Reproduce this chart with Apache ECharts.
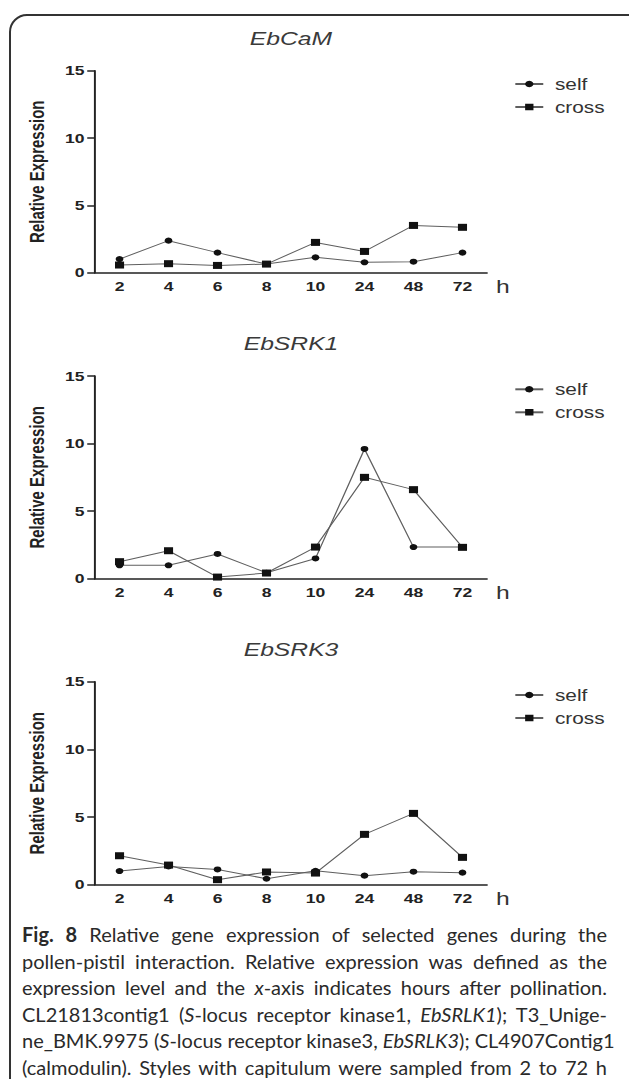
<!DOCTYPE html>
<html>
<head>
<meta charset="utf-8">
<script src="https://cdn.jsdelivr.net/npm/echarts@6/dist/echarts.min.js"></script>
<style>
  html, body { margin: 0; padding: 0; background: #fff; overflow: hidden; }
  #frame {
    position: absolute; left: 9px; top: 14px; width: 660px; height: 1120px;
    border: 2px solid #333; border-radius: 18px; box-sizing: border-box;
  }
  /* the source figure is stretched sideways, so the chart is too */
  #chart {
    position: absolute; left: 0; top: 0; width: 484px; height: 920px;
    transform: scaleX(1.3); transform-origin: 0 0;
  }
  #caption {
    position: absolute; left: 22px; top: 921px; width: 585px;
    font-family: Lato, "Open Sans", sans-serif; font-size: 20px; color: #2a2a2a;
  }
  #caption div { line-height: 26.6px; height: 26.6px; text-align: justify; text-align-last: justify; white-space: nowrap; }
</style>
</head>
<body>
<div id="frame"></div>
<div id="chart"></div>
<div id="caption">
  <div><b>Fig. 8</b> Relative gene expression of selected genes during the</div>
  <div>pollen-pistil interaction. Relative expression was defined as the</div>
  <div>expression level and the <i>x</i>-axis indicates hours after pollination.</div>
  <div>CL21813contig1 (<i>S</i>-locus receptor kinase1, <i>EbSRLK1</i>); T3_Unige-</div>
  <div>ne_BMK.9975 (<i>S</i>-locus receptor kinase3, <i>EbSRLK3</i>); CL4907Contig1</div>
  <div>(calmodulin). Styles with capitulum were sampled from 2 to 72 h</div>
</div>
<script>
// hours after pollination
const hours = ['2', '4', '6', '8', '10', '24', '48', '72'];
const yTicks = [0, 5, 10, 15];

const camSelf = [1.01, 2.38, 1.49, 0.64, 1.14, 0.77, 0.82, 1.49];
const camCross = [0.57, 0.67, 0.54, 0.64, 2.25, 1.58, 3.51, 3.37];

const srk1Self = [0.99, 0.99, 1.83, 0.44, 1.5, 9.6, 2.34, 2.34];
const srk1Cross = [1.26, 2.07, 0.12, 0.42, 2.34, 7.5, 6.59, 2.32];

const srk3Self = [1.01, 1.35, 1.13, 0.44, 1.03, 0.67, 0.96, 0.89];
const srk3Cross = [2.14, 1.45, 0.37, 0.94, 0.86, 3.72, 5.27, 2.02];

const panels = [
  { title: 'EbCaM', top: 70.7, height: 202, self: camSelf, cross: camCross },
  { title: 'EbSRK1', top: 376, height: 202.7, self: srk1Self, cross: srk1Cross },
  { title: 'EbSRK3', top: 681.7, height: 203, self: srk3Self, cross: srk3Cross }
];

const gridLeft = 73.1;
const gridWidth = 301.5;
const axisColor = '#222';

let option = {
  animation: false,
  title: [], legend: [], grid: [], xAxis: [], yAxis: [], series: []
};

panels.forEach((p, i) => {
  option.title.push({
    text: p.title,
    left: gridLeft + gridWidth / 2,
    top: p.top - 42,
    padding: 0,
    textAlign: 'center',
    textStyle: { fontFamily: 'Liberation Sans', fontStyle: 'italic', fontWeight: 'normal', fontSize: 19, color: '#3a3a3a' }
  });
  option.legend.push({
    orient: 'vertical',
    left: 395.4,
    top: p.top + 5.3,
    padding: 0,
    itemWidth: 21.5,
    itemHeight: 8,
    itemGap: 7,
    data: ['self', 'cross'],
    textStyle: { fontFamily: 'Liberation Sans', fontSize: 16, color: '#333', padding: [0, 0, 0, 4] }
  });
  option.grid.push({ left: gridLeft, top: p.top, width: gridWidth, height: p.height });
  option.xAxis.push({
    type: 'category',
    gridIndex: i,
    data: hours,
    boundaryGap: true,
    name: 'h',
    nameLocation: 'end',
    nameGap: 7,
    nameTextStyle: { fontFamily: 'Liberation Sans', fontSize: 19, color: '#333', verticalAlign: 'top', padding: [4, 0, 0, 0] },
    axisLine: { lineStyle: { color: axisColor, width: 1.5 } },
    axisTick: { alignWithLabel: true, length: 5, lineStyle: { color: axisColor, width: 1.5 } },
    axisLabel: { margin: 7, fontFamily: 'Liberation Sans', fontWeight: 'bold', fontSize: 13.5, color: '#222' },
    splitLine: { show: false }
  });
  option.yAxis.push({
    type: 'value',
    gridIndex: i,
    min: yTicks[0],
    max: yTicks[yTicks.length - 1],
    interval: 5,
    name: 'Relative Expression',
    nameLocation: 'middle',
    nameGap: 37,
    nameTextStyle: { fontFamily: 'Liberation Sans', fontWeight: 'bold', fontSize: 15, color: '#222' },
    axisLine: { show: true, lineStyle: { color: axisColor, width: 1.5 } },
    axisTick: { show: true, length: 6, lineStyle: { color: axisColor, width: 1.5 } },
    axisLabel: { margin: 8, fontFamily: 'Liberation Sans', fontWeight: 'bold', fontSize: 13.5, color: '#222' },
    splitLine: { show: false }
  });
  option.series.push({
    name: 'self',
    type: 'line',
    xAxisIndex: i,
    yAxisIndex: i,
    data: p.self,
    symbol: 'circle',
    symbolSize: 6,
    itemStyle: { color: '#111' },
    lineStyle: { color: '#5f5f5f', width: 1 }
  }, {
    name: 'cross',
    type: 'line',
    xAxisIndex: i,
    yAxisIndex: i,
    data: p.cross,
    symbol: 'rect',
    symbolSize: 7,
    itemStyle: { color: '#111' },
    lineStyle: { color: '#5f5f5f', width: 1 }
  });
});

const chart = echarts.init(document.getElementById('chart'), null, { renderer: 'svg' });
chart.setOption(option);
</script>
</body>
</html>
